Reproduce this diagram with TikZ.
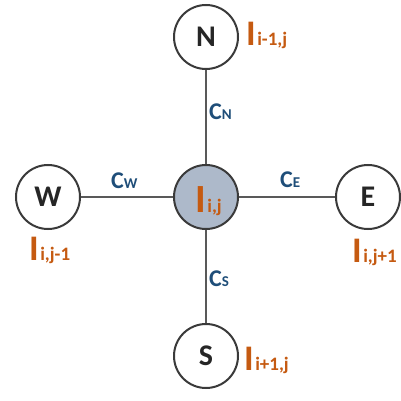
\documentclass[tikz,border=0pt]{standalone}
\usepackage{fontspec}
\setmainfont{Carlito}
\definecolor{lblorange}{HTML}{C55A11}
\definecolor{lblblue}{HTML}{1F4E79}
\definecolor{cfill}{HTML}{ADB9CA}
\definecolor{cedge}{HTML}{3A3A3A}
\definecolor{linegray}{HTML}{595959}
\definecolor{lettercol}{HTML}{262626}
\newcommand{\Ilab}[2][36]{{\fontsize{#1}{#1}\selectfont\bfseries I}\kern1.5pt{\fontsize{19}{19}\selectfont\bfseries #2}}
\newcommand{\Clab}[1]{{\fontsize{24}{24}\selectfont\bfseries C}{\fontsize{15}{15}\selectfont\bfseries #1}}
\begin{document}
\begin{tikzpicture}[x=1pt,y=-1pt,
  cell/.style={circle,draw=cedge,line width=2pt,fill=white,minimum size=64pt,inner sep=0pt,
    font=\fontsize{30}{30}\selectfont\bfseries,text=lettercol},
  center/.style={cell,fill=cfill},
  conn/.style={draw=linegray,line width=1.2pt},
  ilabel/.style={anchor=base west,inner sep=0pt,text=lblorange},
  clabel/.style={anchor=base west,inner sep=0pt,text=lblblue}]
\useasboundingbox (0,0) rectangle (401,401);
\node[center] (C) at (206,197) {};
\node[cell] (N) at (206,37) {N};
\node[cell] (W) at (48,197) {W};
\node[cell] (E) at (368,197) {E};
\node[cell] (S) at (206,356) {S};
\draw[conn] (N) -- (C);
\draw[conn] (W) -- (C);
\draw[conn] (E) -- (C);
\draw[conn] (S) -- (C);
\node[ilabel] (lc) at (195,212) {\Ilab[40]{i,j}};
\node[ilabel] (ln) at (246,46) {\Ilab{i-1,j}};
\node[ilabel] (lw) at (29,260) {\Ilab{i,j-1}};
\node[ilabel] (le) at (352,262) {\Ilab{i,j+1}};
\node[ilabel] (ls) at (244,370) {\Ilab{i+1,j}};
\node[clabel] (cn) at (209,120) {\Clab{N}};
\node[clabel] (cw) at (111,188) {\Clab{W}};
\node[clabel] (ce) at (280,187) {\Clab{E}};
\node[clabel] (cs) at (209,286) {\Clab{S}};
\end{tikzpicture}
\end{document}
